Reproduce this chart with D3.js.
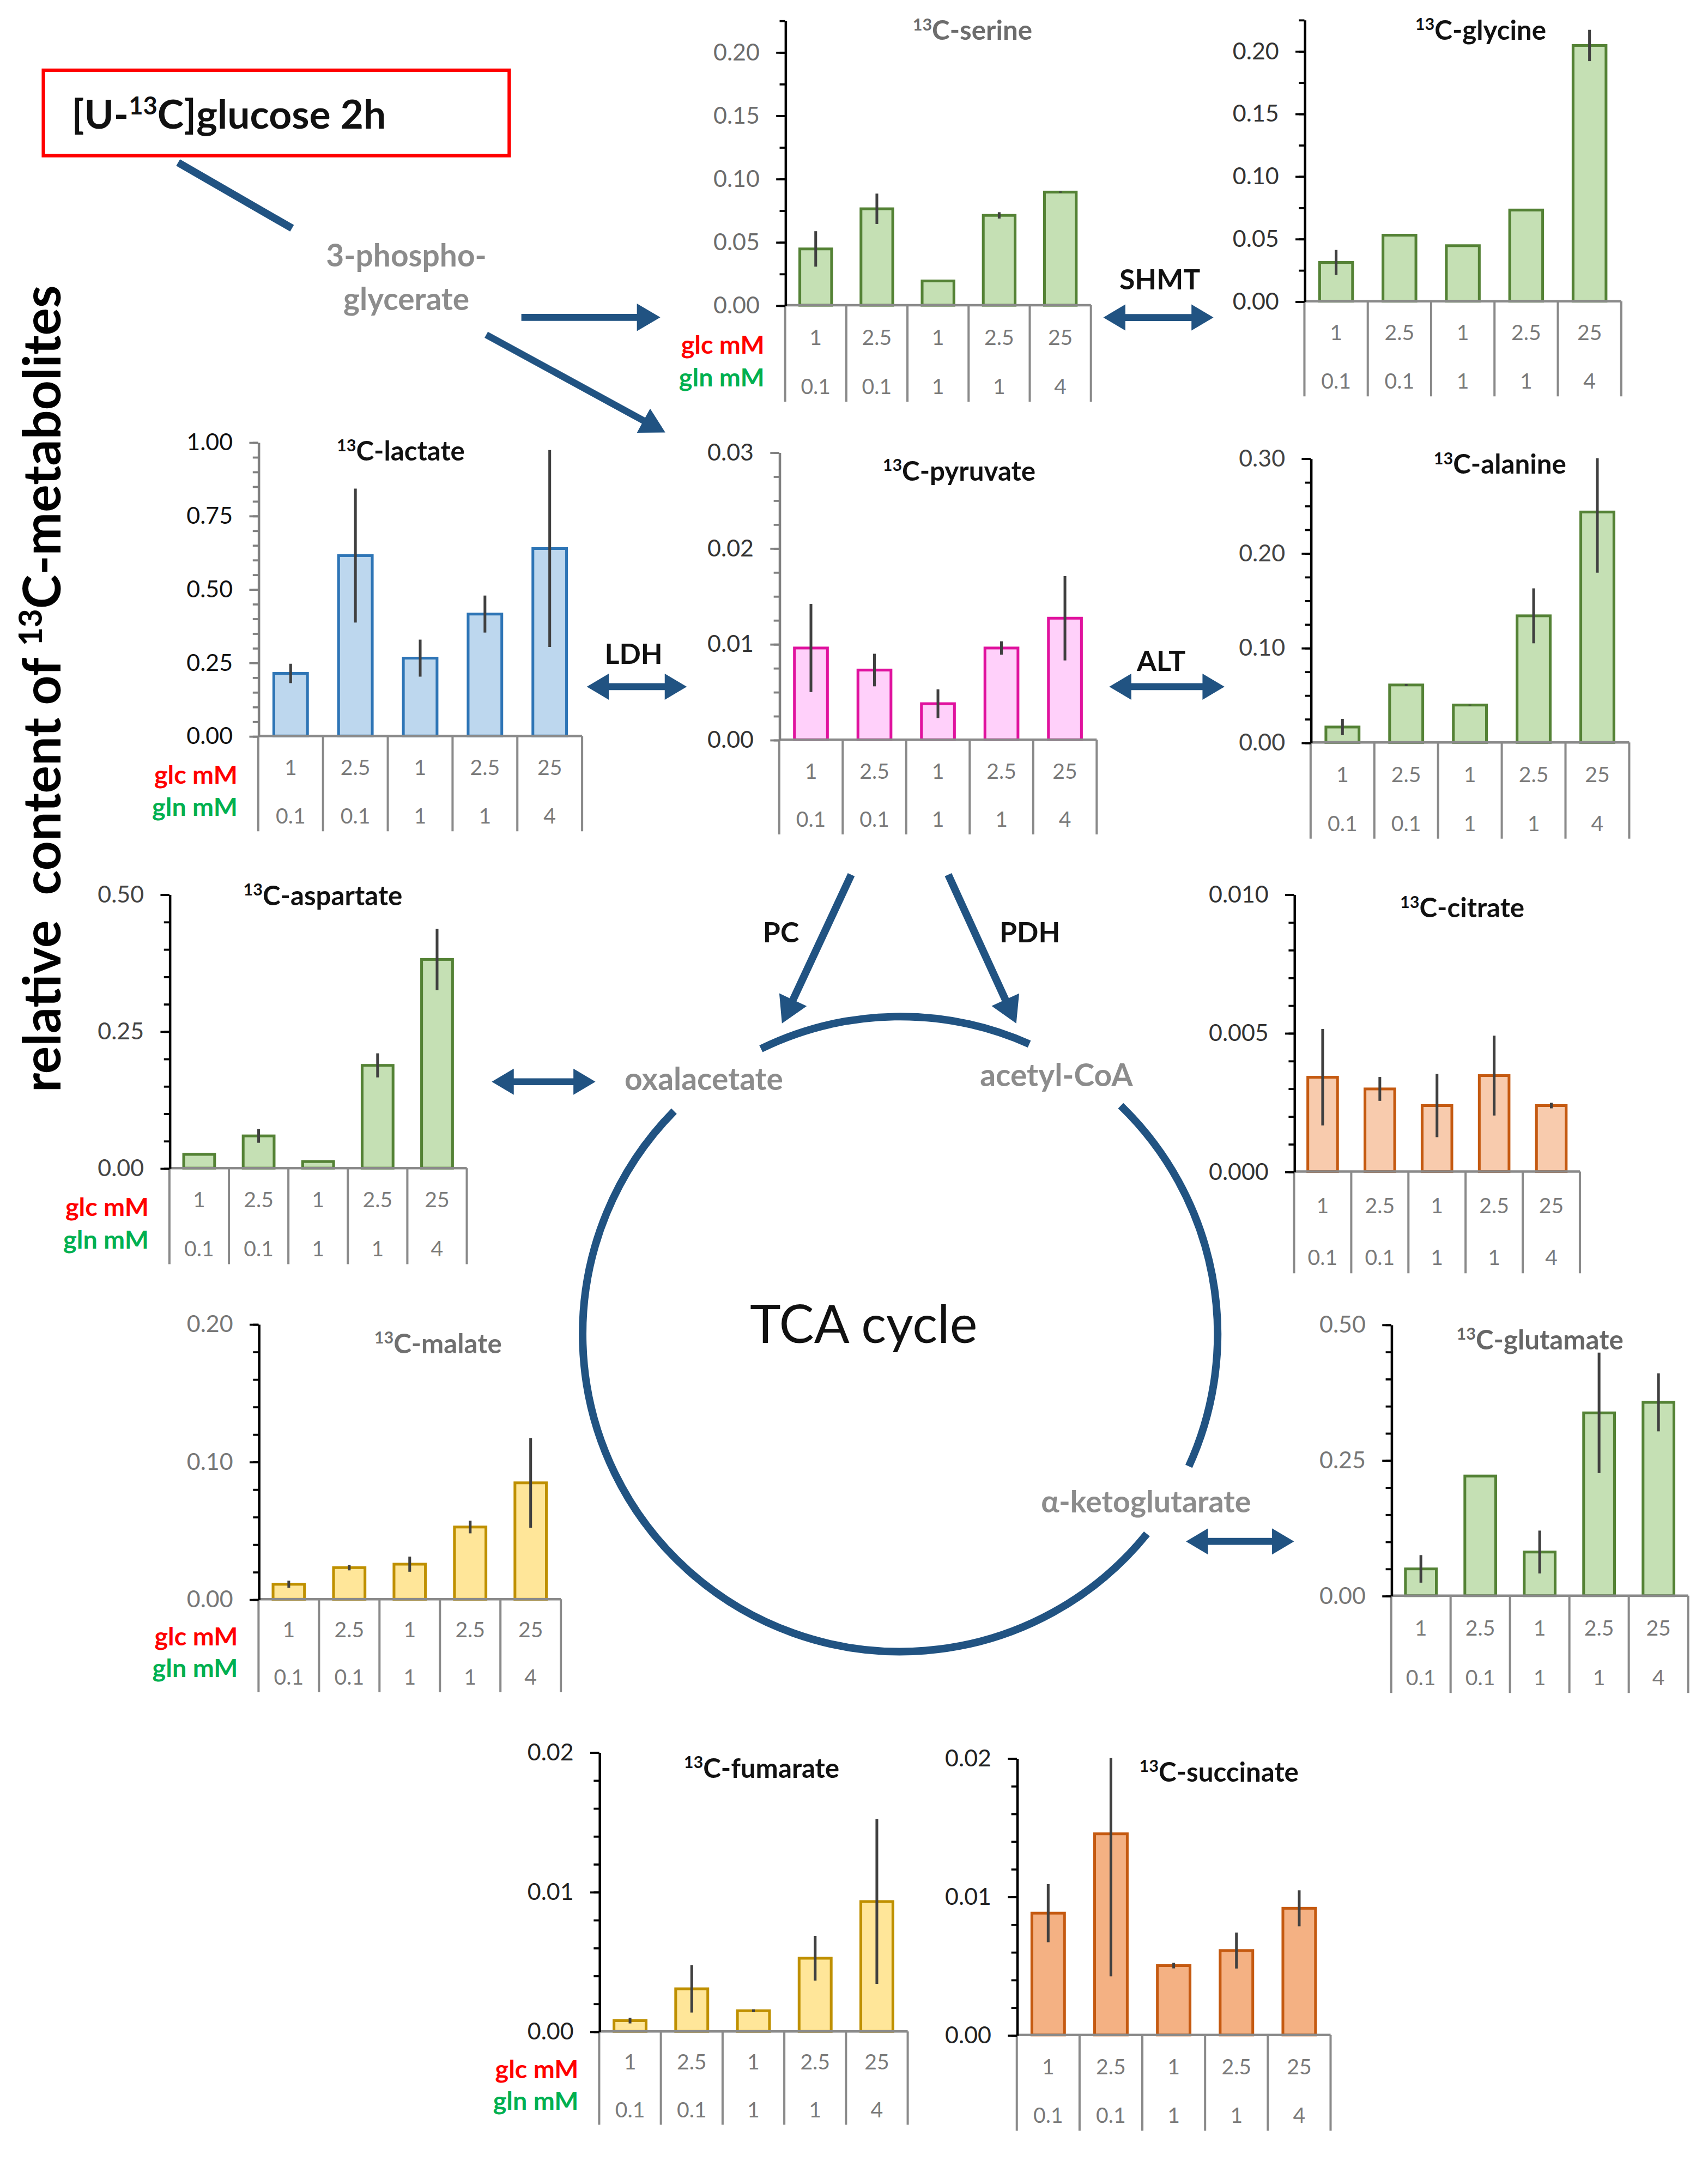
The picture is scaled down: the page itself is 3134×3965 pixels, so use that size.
<!DOCTYPE html>
<html>
<head>
<meta charset="utf-8">
<script src="https://cdn.jsdelivr.net/npm/d3@7"></script>
<style>
  body { margin: 0; background: #fff; }
  svg { display: block; }
  text { font-family: Lato, "Open Sans", sans-serif; }
</style>
</head>
<body>
<svg id="chart"></svg>
<script>
// conditions (two header rows under every panel)
const glcLabels = ["1", "2.5", "1", "2.5", "25"];
const glnLabels = ["0.1", "0.1", "1", "1", "4"];

// means and error bars
const serineMean = [0.0445, 0.0762, 0.0192, 0.0710, 0.0894];
const serineErr = [0.014, 0.012, 0, 0.0025, 0.0005];
const glycineMean = [0.031, 0.0528, 0.0444, 0.0729, 0.2044];
const glycineErr = [0.010, 0, 0, 0, 0.0125];
const lactateMean = [0.213, 0.614, 0.265, 0.415, 0.638];
const lactateErr = [0.033, 0.228, 0.063, 0.063, 0.335];
const pyruvateMean = [0.00957, 0.00727, 0.00376, 0.00957, 0.01268];
const pyruvateErr = [0.0046, 0.0017, 0.0015, 0.0007, 0.0044];
const alanineMean = [0.0163, 0.0607, 0.0395, 0.1337, 0.2433];
const alanineErr = [0.0086, 0.001, 0.0005, 0.029, 0.064];
const aspartateMean = [0.0251, 0.0588, 0.012, 0.1876, 0.381];
const aspartateErr = [0, 0.0125, 0, 0.022, 0.056];
const citrateMean = [0.0034, 0.00298, 0.00238, 0.00346, 0.00238];
const citrateErr = [0.00174, 0.00043, 0.00114, 0.00144, 0.0001];
const malateMean = [0.0109, 0.023, 0.0255, 0.0525, 0.0846];
const malateErr = [0.0026, 0.002, 0.0055, 0.0046, 0.0326];
const glutamateMean = [0.0494, 0.2206, 0.0805, 0.337, 0.3564];
const glutamateErr = [0.0254, 0, 0.0395, 0.111, 0.0535];
const fumarateMean = [0.00077, 0.00305, 0.00148, 0.00524, 0.0093];
const fumarateErr = [0.0002, 0.0017, 0.0001, 0.0016, 0.0059];
const succinateMean = [0.0088, 0.01453, 0.00501, 0.0061, 0.00915];
const succinateErr = [0.0021, 0.0103, 0.0002, 0.0013, 0.0013];

// y tick labels
const serineTicks = [0, 0.05, 0.10, 0.15, 0.20];
const glycineTicks = [0, 0.05, 0.10, 0.15, 0.20];
const lactateTicks = [0, 0.25, 0.50, 0.75, 1.00];
const pyruvateTicks = [0, 0.01, 0.02, 0.03];
const alanineTicks = [0, 0.10, 0.20, 0.30];
const aspartateTicks = [0, 0.25, 0.50];
const citrateTicks = [0, 0.005, 0.010];
const malateTicks = [0, 0.10, 0.20];
const glutamateTicks = [0, 0.25, 0.50];
const fumarateTicks = [0, 0.01, 0.02];
const succinateTicks = [0, 0.01, 0.02];

const W = 3134, H = 3965, S = W / 1240;
const svg = d3.select("#chart")
  .attr("width", W)
  .attr("height", H)
  .attr("viewBox", "0 0 1240 " + (H / S));

const green = { fill: "#c5e0b4", stroke: "#548235" };
const blue = { fill: "#bdd7ee", stroke: "#2e75b6" };
const pink = { fill: "#ffd0fa", stroke: "#e0129e" };
const peach = { fill: "#f8cbad", stroke: "#c55a11" };
const yellow = { fill: "#ffe699", stroke: "#bf9000" };
const orange = { fill: "#f4b183", stroke: "#c55a11" };
const navy = "#215382";

// layout of each small chart (page units, 1240 wide)
const panels = [
  { name: "serine", mean: serineMean, err: serineErr, ticks: serineTicks, axisMax: 0.225, minor: 0.025, fmt: ".2f",
    x0: 570, x1: 792, y0: 221.6, yTop: 37.8, bottom: 291.6, col: green, axisCol: "#000", tickCol: "#6d6d6d",
    tx: 706, ty: 29, titleCol: "#6d6d6d", rows: true },
  { name: "glycine", mean: glycineMean, err: glycineErr, ticks: glycineTicks, axisMax: 0.225, minor: 0.025, fmt: ".2f",
    x0: 947, x1: 1177, y0: 218.7, yTop: 37, bottom: 287.7, col: green, axisCol: "#000", tickCol: "#333",
    tx: 1075, ty: 28.8, titleCol: "#111", rows: false },
  { name: "lactate", mean: lactateMean, err: lactateErr, ticks: lactateTicks, axisMax: 1, minor: 0.05, fmt: ".2f",
    x0: 187.5, x1: 422.6, y0: 534.3, yTop: 321, bottom: 603.5, col: blue, axisCol: "#808080", tickCol: "#111",
    tx: 291, ty: 334.5, titleCol: "#111", rows: true },
  { name: "pyruvate", mean: pyruvateMean, err: pyruvateErr, ticks: pyruvateTicks, axisMax: 0.03, minor: 0.0025, fmt: ".2f",
    x0: 565.7, x1: 796.2, y0: 537, yTop: 328.3, bottom: 605.8, col: pink, axisCol: "#808080", tickCol: "#333",
    tx: 696.3, ty: 349, titleCol: "#111", rows: false },
  { name: "alanine", mean: alanineMean, err: alanineErr, ticks: alanineTicks, axisMax: 0.30, minor: 0.025, fmt: ".2f",
    x0: 951.5, x1: 1182.8, y0: 539, yTop: 332.7, bottom: 608.8, col: green, axisCol: "#000", tickCol: "#444",
    tx: 1089, ty: 344, titleCol: "#111", rows: false },
  { name: "aspartate", mean: aspartateMean, err: aspartateErr, ticks: aspartateTicks, axisMax: 0.50, minor: 0.05, fmt: ".2f",
    x0: 123, x1: 338.9, y0: 848, yTop: 649.2, bottom: 917.7, col: green, axisCol: "#000", tickCol: "#444",
    tx: 234.4, ty: 657, titleCol: "#111", rows: true },
  { name: "citrate", mean: citrateMean, err: citrateErr, ticks: citrateTicks, axisMax: 0.010, minor: 0.001, fmt: ".3f",
    x0: 939.5, x1: 1147, y0: 850.5, yTop: 649.2, bottom: 924.4, col: peach, axisCol: "#000", tickCol: "#333",
    tx: 1061.6, ty: 666, titleCol: "#111", rows: false },
  { name: "malate", mean: malateMean, err: malateErr, ticks: malateTicks, axisMax: 0.20, minor: 0.02, fmt: ".2f",
    x0: 187.7, x1: 407.2, y0: 1161, yTop: 961.2, bottom: 1228.4, col: yellow, axisCol: "#000", tickCol: "#777",
    tx: 318, ty: 982.5, titleCol: "#707070", rows: true },
  { name: "glutamate", mean: glutamateMean, err: glutamateErr, ticks: glutamateTicks, axisMax: 0.50, minor: 0.05, fmt: ".2f",
    x0: 1010, x1: 1225.6, y0: 1158.4, yTop: 961.5, bottom: 1229, col: green, axisCol: "#000", tickCol: "#777",
    tx: 1118, ty: 979.7, titleCol: "#666", rows: false },
  { name: "fumarate", mean: fumarateMean, err: fumarateErr, ticks: fumarateTicks, axisMax: 0.02, minor: 0.002, fmt: ".2f",
    x0: 435, x1: 659, y0: 1474.7, yTop: 1272, bottom: 1542.5, col: yellow, axisCol: "#000", tickCol: "#222",
    tx: 552.9, ty: 1290.7, titleCol: "#111", rows: true },
  { name: "succinate", mean: succinateMean, err: succinateErr, ticks: succinateTicks, axisMax: 0.02, minor: 0.002, fmt: ".2f",
    x0: 738.2, x1: 966, y0: 1477.3, yTop: 1276.3, bottom: 1546.8, col: orange, axisCol: "#000", tickCol: "#222",
    tx: 885, ty: 1293.4, titleCol: "#111", rows: false }
];

function supText(parent, x, y, size, pre, sup, post) {
  const t = parent.append("text")
    .attr("x", x)
    .attr("y", y)
    .attr("font-size", size)
    .style("white-space", "pre");
  if (pre) t.append("tspan").text(pre);
  t.append("tspan").attr("font-size", size * 0.62).attr("dy", -size * 0.36).text(sup);
  t.append("tspan").attr("dy", size * 0.36).text(post);
  return t;
}

function drawPanel(p) {
  const g = svg.append("g").attr("class", "panel-" + p.name);
  const top = p.ticks[p.ticks.length - 1];
  const y0 = d3.scaleLinear().domain([0, top]).range([p.y0, p.yTop]);
  const y = d3.scaleLinear().domain([0, p.axisMax]).range([p.y0, y0(p.axisMax)]);
  const x = d3.scaleBand().domain(d3.range(glcLabels.length)).range([p.x0, p.x1]);
  const bw = x.bandwidth() * 0.52;

  // category table
  const edges = x.domain().map(i => x(i)).concat([p.x1]);
  g.selectAll(".sep").data(edges).enter().append("line")
    .attr("x1", d => d).attr("x2", d => d)
    .attr("y1", y(0)).attr("y2", p.bottom)
    .attr("stroke", "#8a8a8a").attr("stroke-width", 1.6);

  const th = p.bottom - y(0);
  g.selectAll(".glc").data(glcLabels).enter().append("text")
    .attr("x", (d, i) => x(i) + x.bandwidth() / 2)
    .attr("y", y(0) + th * 0.41)
    .attr("text-anchor", "middle")
    .attr("font-size", 15.5)
    .attr("fill", "#7a7a7a")
    .text(d => d);
  g.selectAll(".gln").data(glnLabels).enter().append("text")
    .attr("x", (d, i) => x(i) + x.bandwidth() / 2)
    .attr("y", y(0) + th * 0.92)
    .attr("text-anchor", "middle")
    .attr("font-size", 15.5)
    .attr("fill", "#7a7a7a")
    .text(d => d);

  if (p.rows) {
    g.append("text")
      .attr("x", p.x0 - 15).attr("y", y(0) + th * 0.5)
      .attr("text-anchor", "end").attr("font-size", 18.5).attr("font-weight", 700)
      .attr("fill", "#ff0000").text("glc mM");
    g.append("text")
      .attr("x", p.x0 - 15).attr("y", y(0) + th * 0.84)
      .attr("text-anchor", "end").attr("font-size", 18.5).attr("font-weight", 700)
      .attr("fill", "#00b050").text("gln mM");
  }

  // bars
  g.selectAll(".bar").data(p.mean).enter().append("rect")
    .attr("x", (d, i) => x(i) + (x.bandwidth() - bw) / 2)
    .attr("y", d => y(d))
    .attr("width", bw)
    .attr("height", d => y(0) - y(d))
    .attr("fill", p.col.fill)
    .attr("stroke", p.col.stroke)
    .attr("stroke-width", 2);

  // error bars, clipped to the plot area like the spreadsheet does
  g.selectAll(".err").data(p.mean).enter().append("line")
    .attr("x1", (d, i) => x(i) + x.bandwidth() / 2)
    .attr("x2", (d, i) => x(i) + x.bandwidth() / 2)
    .attr("y1", (d, i) => y(Math.min(p.axisMax, d + p.err[i])))
    .attr("y2", (d, i) => y(Math.max(0, d - p.err[i])))
    .attr("stroke", "#404040")
    .attr("stroke-width", 2)
    .attr("display", (d, i) => p.err[i] > 0 ? null : "none");

  // zero line
  g.append("line")
    .attr("x1", p.x0).attr("x2", p.x1)
    .attr("y1", y(0)).attr("y2", y(0))
    .attr("stroke", "#8a8a8a").attr("stroke-width", 1.8);

  // y axis, minor then major
  const minorVals = d3.range(0, Math.round(p.axisMax / p.minor) + 1).map(k => k * p.minor);
  const minorAxis = g.append("g")
    .attr("transform", "translate(" + p.x0 + ",0)")
    .call(d3.axisLeft(y).tickValues(minorVals).tickSize(4).tickSizeOuter(0).tickFormat(""));
  minorAxis.select(".domain").remove();

  const major = g.append("g")
    .attr("transform", "translate(" + p.x0 + ",0)")
    .call(d3.axisLeft(y).tickValues(p.ticks).tickSize(6.5).tickSizeOuter(0).tickPadding(12)
      .tickFormat(d3.format(p.fmt)));

  g.selectAll(".tick line").attr("stroke", p.axisCol).attr("stroke-width", 1.5);
  major.select(".domain").attr("stroke", p.axisCol).attr("stroke-width", 1.8);
  major.selectAll(".tick text")
    .attr("font-size", 17)
    .attr("font-family", "Lato, 'Open Sans', sans-serif")
    .attr("fill", p.tickCol);

  // title
  supText(g, p.tx, p.ty, 19.5, "", "13", "C-" + p.name)
    .attr("text-anchor", "middle")
    .attr("font-weight", 700)
    .attr("fill", p.titleCol);
}

panels.forEach(drawPanel);

// pathway drawing
function arrowPath(x1, y1, x2, y2, t, L, w, both) {
  const dx = x2 - x1, dy = y2 - y1, len = Math.hypot(dx, dy);
  const ux = dx / len, uy = dy / len, nx = -uy, ny = ux;
  const pt = (d, o) => [x1 + ux * d + nx * o, y1 + uy * d + ny * o];
  const pts = [];
  if (both) pts.push(pt(0, 0), pt(L, w), pt(L, t / 2));
  else pts.push(pt(0, t / 2));
  pts.push(pt(len - L, t / 2), pt(len - L, w), pt(len, 0), pt(len - L, -w), pt(len - L, -t / 2));
  if (both) pts.push(pt(L, -t / 2), pt(L, -w));
  else pts.push(pt(0, -t / 2));
  return "M" + pts.map(q => q[0].toFixed(2) + "," + q[1].toFixed(2)).join("L") + "Z";
}

const arrows = [
  [378.5, 230.4, 479.4, 230.4, 5, 17, 10, false],
  [353, 243, 483, 314, 5, 18, 10, false],
  [801, 230.5, 881, 230.5, 5, 16, 9.5, true],
  [426, 498.5, 498.6, 498.5, 5, 16, 9.5, true],
  [805.3, 498.5, 889, 498.5, 5, 16, 9.5, true],
  [357, 785.3, 432.3, 785.3, 5, 16, 9.5, true],
  [861, 1119, 939.5, 1119, 5, 16, 9.5, true],
  [618, 635, 567.7, 743, 5.5, 19, 11, false],
  [688.4, 635, 737.8, 743, 5.5, 19, 11, false]
];
svg.selectAll(".arrow").data(arrows).enter().append("path")
  .attr("d", a => arrowPath(...a))
  .attr("fill", navy);

svg.append("line")
  .attr("x1", 129.3).attr("y1", 118)
  .attr("x2", 212).attr("y2", 165.7)
  .attr("stroke", navy).attr("stroke-width", 5.5);

// TCA cycle ring, three arcs with gaps for the labels
const cx = 653.5, cy = 968.5, r = 230.5, rad = Math.PI / 180;
[[244, 294], [314, 384.6], [39, 224.6]].forEach(a => {
  const p = d3.path();
  p.arc(cx, cy, r, a[0] * rad, a[1] * rad);
  svg.append("path").attr("d", p.toString())
    .attr("fill", "none").attr("stroke", navy).attr("stroke-width", 5.5);
});

// labels
const grey = "#8c8c8c";
svg.append("rect")
  .attr("x", 31.5).attr("y", 51).attr("width", 338.2).attr("height", 62)
  .attr("fill", "none").attr("stroke", "#ff0000").attr("stroke-width", 2.5);
supText(svg, 52, 93.5, 29, "[U-", "13", "C]glucose 2h")
  .attr("font-weight", 700).attr("fill", "#111");

svg.append("text").attr("x", 295).attr("y", 193.6).attr("text-anchor", "middle")
  .attr("font-size", 22.5).attr("font-weight", 700).attr("fill", grey).text("3-phospho-");
svg.append("text").attr("x", 295).attr("y", 225).attr("text-anchor", "middle")
  .attr("font-size", 22.5).attr("font-weight", 700).attr("fill", grey).text("glycerate");
svg.append("text").attr("x", 511).attr("y", 791.4).attr("text-anchor", "middle")
  .attr("font-size", 22.5).attr("font-weight", 700).attr("fill", grey).text("oxalacetate");
svg.append("text").attr("x", 767).attr("y", 788.6).attr("text-anchor", "middle")
  .attr("font-size", 22.5).attr("font-weight", 700).attr("fill", grey).text("acetyl-CoA");
svg.append("text").attr("x", 832).attr("y", 1098).attr("text-anchor", "middle")
  .attr("font-size", 22).attr("font-weight", 700).attr("fill", grey).text("α-ketoglutarate");
svg.append("text").attr("x", 627).attr("y", 975).attr("text-anchor", "middle")
  .attr("font-size", 38).attr("fill", "#111").text("TCA cycle");

const enzymes = [["SHMT", 842, 210], ["LDH", 460, 482], ["ALT", 843, 487], ["PC", 567, 684], ["PDH", 747.7, 684]];
svg.selectAll(".enz").data(enzymes).enter().append("text")
  .attr("x", d => d[1]).attr("y", d => d[2])
  .attr("text-anchor", "middle")
  .attr("font-size", 20.5).attr("font-weight", 700).attr("fill", "#111")
  .text(d => d[0]);

// shared y label
const ylab = svg.append("g").attr("transform", "translate(44,500) rotate(-90)");
supText(ylab, 0, 0, 37.5, "relative  content of ", "13", "C-metabolites")
  .attr("text-anchor", "middle").attr("font-weight", 700).attr("fill", "#000");
</script>
</body>
</html>
